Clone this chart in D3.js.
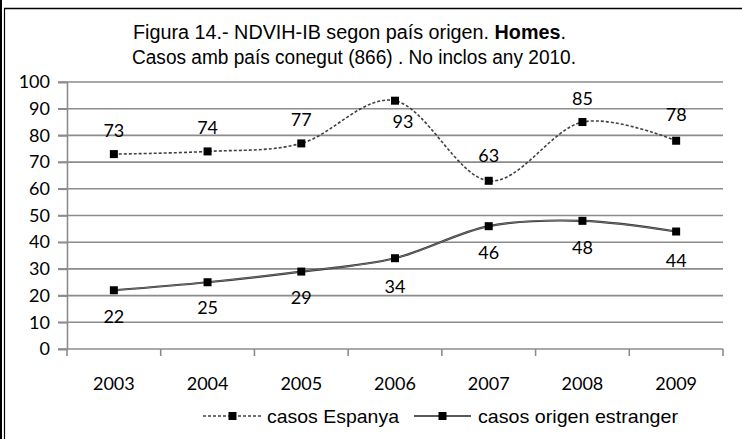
<!DOCTYPE html>
<html lang="ca">
<head>
	<meta charset="UTF-8">
	<title>Figura 14</title>
	<script src="https://cdn.jsdelivr.net/npm/d3@7/dist/d3.min.js"></script>
	<style>
		body { margin: 0; background: #fff; }
		svg { display: block; }
	</style>
</head>
<body>
	<div id="container"></div>
	<script>
		var width = 742;
		var height = 439;

		// data
		var years = ["2003", "2004", "2005", "2006", "2007", "2008", "2009"];
		var casosEspanya = [73, 74, 77, 93, 63, 85, 78];
		var casosEstranger = [22, 25, 29, 34, 46, 48, 44];
		var yTicks = [0, 10, 20, 30, 40, 50, 60, 70, 80, 90, 100];
		var seriesNames = ["casos Espanya", "casos origen estranger"];

		var svg = d3.select("#container").append("svg")
				.attr("width", width)
				.attr("height", height);

		// frame: double line at the left, single on top
		svg.append("line").attr("x1", 1).attr("y1", 0).attr("x2", 1).attr("y2", height)
				.style("stroke", "#000").style("stroke-width", 2);
		svg.append("line").attr("x1", 4.5).attr("y1", 8.5).attr("x2", 4.5).attr("y2", height)
				.style("stroke", "#000").style("stroke-width", 1.2);
		svg.append("line").attr("x1", 4).attr("y1", 8.5).attr("x2", width).attr("y2", 8.5)
				.style("stroke", "#000").style("stroke-width", 1.5);

		// title
		var title = svg.append("g")
				.style("font-family", "'Liberation Sans', Arial, sans-serif")
				.style("font-size", "20px")
				.attr("fill", "#000");
		var t1 = title.append("text").attr("x", 133).attr("y", 39)
				.attr("textLength", 433).attr("lengthAdjust", "spacingAndGlyphs");
		t1.append("tspan").text("Figura 14.- NDVIH-IB segon país origen. ");
		t1.append("tspan").style("font-weight", "bold").text("Homes");
		t1.append("tspan").text(".");
		title.append("text").attr("x", 132).attr("y", 64)
				.attr("textLength", 444).attr("lengthAdjust", "spacingAndGlyphs")
				.text("Casos amb país conegut (866) . No inclos any 2010.");

		var x = d3.scaleBand()
				.domain(years)
				.range([67, 723]);
		var y = d3.scaleLinear()
				.domain([0, 100])
				.range([349, 82]);

		var labelFont = "Lato, 'Open Sans', sans-serif";

		// gridlines
		svg.append("g").selectAll("line").data(yTicks.filter(d => d > 0))
			.enter().append("line")
				.attr("x1", 58)
				.attr("x2", 723)
				.attr("y1", d => y(d))
				.attr("y2", d => y(d))
				.style("stroke", "#8c8c8c")
				.style("stroke-width", 1.6);

		// y axis
		var yAxis = svg.append("g")
				.attr("transform", "translate(67,0)")
				.call(d3.axisLeft(y).tickValues(yTicks).tickSize(9).tickPadding(8));
		yAxis.select(".domain").style("stroke", "#8c8c8c").style("stroke-width", 1.6);
		yAxis.selectAll(".tick line").style("stroke", "#8c8c8c").style("stroke-width", 1.6);
		yAxis.selectAll("text")
				.style("font-family", labelFont)
				.style("font-size", "18px")
				.attr("fill", "#000");

		// x axis, ticks between categories
		svg.append("line")
				.attr("x1", 58).attr("x2", 723)
				.attr("y1", y(0)).attr("y2", y(0))
				.style("stroke", "#8c8c8c").style("stroke-width", 1.6);
		var edges = years.map(d => x(d)).concat([x.range()[1]]);
		svg.append("g").selectAll("line").data(edges)
			.enter().append("line")
				.attr("x1", d => d).attr("x2", d => d)
				.attr("y1", y(0)).attr("y2", y(0) + 7)
				.style("stroke", "#8c8c8c").style("stroke-width", 1.6);
		svg.append("g").selectAll("text").data(years)
			.enter().append("text")
				.attr("x", d => x(d) + x.bandwidth() / 2)
				.attr("y", 390)
				.attr("text-anchor", "middle")
				.style("font-family", labelFont)
				.style("font-size", "18px")
				.text(d => d);

		var cx = (d, i) => x(years[i]) + x.bandwidth() / 2;
		var line = d3.line()
				.x(cx)
				.y(d => y(d))
				.curve(d3.curveCardinal.tension(0));

		// casos Espanya - dashed
		svg.append("path")
				.datum(casosEspanya)
				.attr("d", line)
				.style("fill", "none")
				.style("stroke", "#404040")
				.style("stroke-width", 1.6)
				.style("stroke-dasharray", "3,2");

		// casos origen estranger - solid
		svg.append("path")
				.datum(casosEstranger)
				.attr("d", line)
				.style("fill", "none")
				.style("stroke", "#333")
				.style("stroke-width", 2.2);
		svg.append("path")
				.datum(casosEstranger)
				.attr("d", line)
				.style("fill", "none")
				.style("stroke", "#9a9a9a")
				.style("stroke-width", 0.6);

		// markers
		[casosEspanya, casosEstranger].forEach(function(series) {
			svg.append("g").selectAll("rect").data(series)
				.enter().append("rect")
					.attr("x", (d, i) => cx(d, i) - 4)
					.attr("y", d => y(d) - 4)
					.attr("width", 8)
					.attr("height", 8)
					.attr("fill", "#000");
		});

		// data labels (Espanya above except the 2006 peak)
		var espDx = [0, 0, 0, 8, 0, 0, 0];
		var espDy = [-17, -17, -17, 27, -19, -17, -20];
		svg.append("g").selectAll("text").data(casosEspanya)
			.enter().append("text")
				.attr("x", (d, i) => cx(d, i) + espDx[i])
				.attr("y", (d, i) => y(d) + espDy[i])
				.attr("text-anchor", "middle")
				.style("font-family", labelFont)
				.style("font-size", "18px")
				.text(d => d);

		var estDy = [33, 32, 32, 35, 33, 33, 35];
		svg.append("g").selectAll("text").data(casosEstranger)
			.enter().append("text")
				.attr("x", cx)
				.attr("y", (d, i) => y(d) + estDy[i])
				.attr("text-anchor", "middle")
				.style("font-family", labelFont)
				.style("font-size", "18px")
				.text(d => d);

		// legend
		var legend = svg.append("g")
				.style("font-family", "'Liberation Sans', Arial, sans-serif")
				.style("font-size", "19px");
		var legendItems = [
			{name: seriesNames[0], x1: 203, x2: 262, tx: 267, tw: 132, dash: "3,2", color: "#404040"},
			{name: seriesNames[1], x1: 414, x2: 471, tx: 478, tw: 200, dash: null, color: "#222"}
		];
		legendItems.forEach(function(d) {
			legend.append("line")
					.attr("x1", d.x1).attr("x2", d.x2)
					.attr("y1", 416).attr("y2", 416)
					.style("stroke", d.color)
					.style("stroke-width", 1.4)
					.style("stroke-dasharray", d.dash);
			legend.append("rect")
					.attr("x", (d.x1 + d.x2) / 2 - 4)
					.attr("y", 412)
					.attr("width", 8).attr("height", 8)
					.attr("fill", "#000");
			legend.append("text")
					.attr("x", d.tx)
					.attr("y", 423)
					.attr("textLength", d.tw)
					.attr("lengthAdjust", "spacingAndGlyphs")
					.text(d.name);
		});
	</script>
</body>
</html>
